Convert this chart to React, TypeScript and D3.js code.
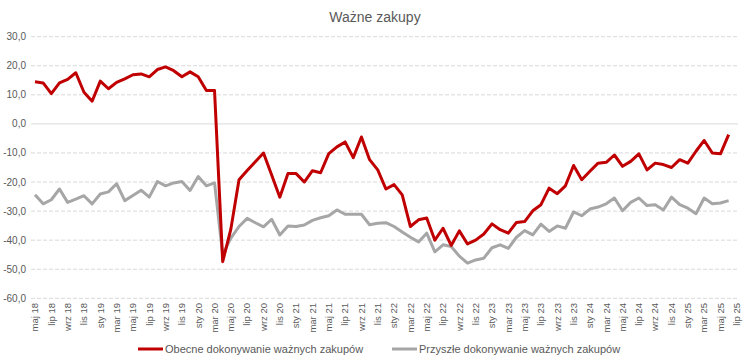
import React, { useRef, useEffect } from 'react';
import * as d3 from 'd3';

const months: string[] = [
    'maj 18', 'cze 18', 'lip 18', 'sie 18', 'wrz 18', 'paź 18', 'lis 18', 'gru 18',
    'sty 19', 'lut 19', 'mar 19', 'kwi 19', 'maj 19', 'cze 19', 'lip 19', 'sie 19', 'wrz 19', 'paź 19', 'lis 19', 'gru 19',
    'sty 20', 'lut 20', 'mar 20', 'kwi 20', 'maj 20', 'cze 20', 'lip 20', 'sie 20', 'wrz 20', 'paź 20', 'lis 20', 'gru 20',
    'sty 21', 'lut 21', 'mar 21', 'kwi 21', 'maj 21', 'cze 21', 'lip 21', 'sie 21', 'wrz 21', 'paź 21', 'lis 21', 'gru 21',
    'sty 22', 'lut 22', 'mar 22', 'kwi 22', 'maj 22', 'cze 22', 'lip 22', 'sie 22', 'wrz 22', 'paź 22', 'lis 22', 'gru 22',
    'sty 23', 'lut 23', 'mar 23', 'kwi 23', 'maj 23', 'cze 23', 'lip 23', 'sie 23', 'wrz 23', 'paź 23', 'lis 23', 'gru 23',
    'sty 24', 'lut 24', 'mar 24', 'kwi 24', 'maj 24', 'cze 24', 'lip 24', 'sie 24', 'wrz 24', 'paź 24', 'lis 24', 'gru 24',
    'sty 25', 'lut 25', 'mar 25', 'kwi 25', 'maj 25', 'cze 25', 'lip 25',
];

// Obecne dokonywanie ważnych zakupów (maj 18 .. cze 25)
const current: number[] = [
    14.5, 14.1, 10.4, 14.1, 15.3, 17.6, 10.9, 7.8,
    14.7, 12.1, 14.3, 15.5, 16.9, 17.2, 16.2, 18.7, 19.6, 18.3, 16.2, 17.9,
    16.2, 11.5, 11.5, -47.4, -36.2, -19.2, -16.0, -13.0, -10.0, -17.6, -25.2, -17.1,
    -17.1, -20.0, -16.1, -16.8, -10.2, -7.9, -6.2, -11.6, -4.5, -12.3, -15.8, -22.4,
    -20.9, -24.4, -35.3, -33.0, -32.4, -40.0, -35.9, -41.8, -36.8, -41.3, -40.0, -37.9,
    -34.4, -36.4, -37.6, -33.9, -33.6, -29.9, -27.8, -22.1, -24.0, -21.3, -14.3, -19.2,
    -16.3, -13.5, -13.2, -10.7, -14.6, -12.9, -10.3, -15.8, -13.5, -14.0, -15.0, -12.3,
    -13.5, -9.4, -5.7, -10.0, -10.3, -3.7,
];

// Przyszłe dokonywanie ważnych zakupów
const future: number[] = [
    -24.4, -27.5, -26.1, -22.4, -27.0, -25.9, -24.7, -27.5,
    -24.1, -23.4, -20.6, -26.4, -24.6, -22.8, -25.2, -19.8, -21.3, -20.3, -19.8, -22.9,
    -18.1, -21.3, -20.3, -45.0, -39.3, -35.3, -32.5, -34.0, -35.4, -32.8, -38.2, -35.1,
    -35.3, -34.8, -33.2, -32.3, -31.6, -29.6, -31.1, -31.1, -31.1, -34.7, -34.2, -34.0,
    -35.3, -37.2, -39.0, -40.6, -37.6, -44.0, -41.6, -42.2, -45.5, -47.9, -46.8, -46.2,
    -42.6, -41.6, -42.8, -39.0, -36.7, -38.2, -34.5, -37.0, -35.1, -35.9, -30.3, -31.6,
    -29.3, -28.6, -27.5, -25.5, -29.9, -27.0, -25.5, -28.1, -27.8, -29.6, -25.2, -27.8,
    -29.0, -30.9, -25.5, -27.5, -27.2, -26.4,
];

const yTicks: number[] = [30, 20, 10, 0, -10, -20, -30, -40, -50, -60];

const seriesNames: string[] = ['Obecne dokonywanie ważnych zakupów', 'Przyszłe dokonywanie ważnych zakupów'];
const seriesColors: string[] = ['#c00000', '#a6a6a6'];

const App: React.FC = () => {
    const ref = useRef<SVGSVGElement | null>(null);
    const width = 751;
    const height = 363;

    useEffect(() => {
        const svg = d3.select(ref.current);
        svg.selectAll('*').remove();

        const font = '"Liberation Sans", Arial, sans-serif';
        const textColor = '#595959';

        const x = d3.scalePoint<string>().domain(months).range([35, 736.8]);
        const y = d3.scaleLinear().domain([-60, 30]).range([298.3, 36.7]);

        svg.append('rect').attr('width', width).attr('height', height).attr('fill', '#fff');

        // title
        svg.append('text')
            .attr('x', 375)
            .attr('y', 22)
            .attr('text-anchor', 'middle')
            .style('font-family', font)
            .style('font-size', '14px')
            .attr('fill', textColor)
            .text('Ważne zakupy');

        // gridlines
        svg.append('g')
            .selectAll('line')
            .data(yTicks)
            .enter()
            .append('line')
            .attr('x1', 31)
            .attr('x2', 738)
            .attr('y1', (d) => y(d))
            .attr('y2', (d) => y(d))
            .attr('stroke', '#d9d9d9')
            .attr('stroke-width', 1)
            .attr('stroke-dasharray', (d) => (d === 0 ? null : '4,2'));

        // y labels
        svg.append('g')
            .selectAll('text')
            .data(yTicks)
            .enter()
            .append('text')
            .attr('x', 26)
            .attr('y', (d) => y(d))
            .attr('dy', '0.35em')
            .attr('text-anchor', 'end')
            .style('font-family', font)
            .style('font-size', '10px')
            .attr('fill', textColor)
            .text((d) => d3.format('.1f')(d).replace('.', ',').replace('−', '-'));

        // x labels every second month, rotated
        const xLabels = months.filter((_, i) => i % 2 === 0);
        svg.append('g')
            .selectAll('text')
            .data(xLabels)
            .enter()
            .append('text')
            .attr('transform', (d) => `translate(${(x(d) as number) + 3.3},303) rotate(-90)`)
            .attr('text-anchor', 'end')
            .style('font-family', font)
            .style('font-size', '9.5px')
            .attr('fill', textColor)
            .text((d) => d);

        const line = d3.line<number>()
            .x((_, i) => x(months[i]) as number)
            .y((d) => y(d));

        [future, current].forEach((values, k) => {
            svg.append('path')
                .datum(values)
                .attr('d', line)
                .attr('fill', 'none')
                .attr('stroke', k === 0 ? seriesColors[1] : seriesColors[0])
                .attr('stroke-width', 3)
                .attr('stroke-linejoin', 'round');
        });

        // legend
        const legendX = [138, 392];
        seriesNames.forEach((name, k) => {
            const g = svg.append('g').attr('transform', `translate(${legendX[k]},349)`);
            g.append('line')
                .attr('x1', 0)
                .attr('x2', 25)
                .attr('y1', 0)
                .attr('y2', 0)
                .attr('stroke', seriesColors[k])
                .attr('stroke-width', 3);
            g.append('text')
                .attr('x', 27)
                .attr('y', 0)
                .attr('dy', '0.35em')
                .style('font-family', font)
                .style('font-size', '11px')
                .attr('fill', textColor)
                .text(name);
        });
    }, []);

    return (
        <svg ref={ref} width={width} height={height} style={{ position: 'absolute', left: 0, top: 0 }} />
    );
};

export default App;
